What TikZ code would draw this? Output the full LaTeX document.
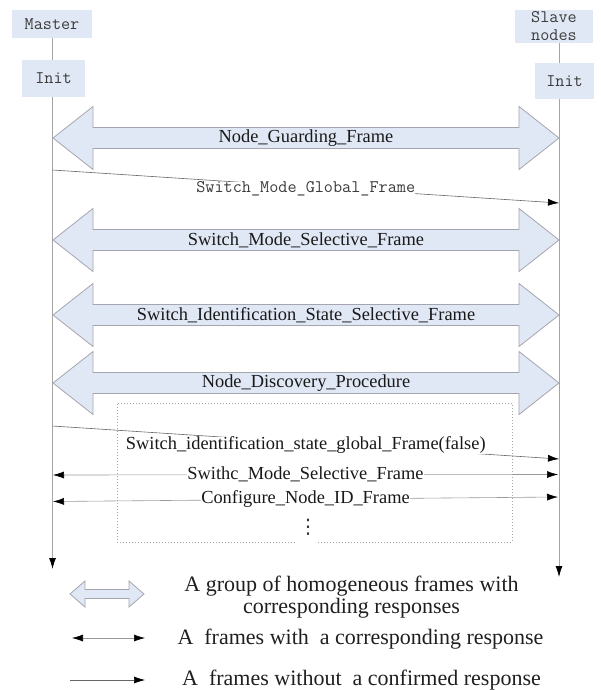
\documentclass[tikz,border=0pt]{standalone}
\usepackage{fontspec}
\setmainfont{Liberation Serif}
\newfontfamily\dotsfont{DejaVu Sans}
\usepackage{xcolor}
\usetikzlibrary{arrows.meta,positioning}

\definecolor{boxblue}{RGB}{225,232,245}
\definecolor{linegray}{RGB}{165,165,165}
\definecolor{edgegray}{RGB}{165,165,175}
\definecolor{txtgray}{RGB}{60,60,60}

% block arrow between the two lifelines: #1 = y, #2 = name, #3 = label
\newcommand{\groupframe}[3]{%
  \draw[grouparrow] (53,#1) -- (93,#1-31.5) -- (93,#1-10.5) -- (519,#1-10.5) -- (519,#1-31.5)
    -- (559,#1) -- (519,#1+31.5) -- (519,#1+10.5) -- (93,#1+10.5) -- (93,#1+31.5) -- cycle;
  \node[grouplabel] (#2) at (306,#1) {#3};}

\begin{document}
\begin{tikzpicture}[
    x=1pt, y=-1pt,
    >={Latex[length=11pt,width=7pt,color=black]},
    box/.style={fill=boxblue, inner sep=0pt, text=txtgray, font=\fontsize{17.7}{18}\ttfamily},
    lifeline/.style={draw=linegray, line width=0.8pt},
    grouparrow/.style={draw=edgegray, fill=boxblue, line width=0.8pt, line join=miter},
    grouplabel/.style={inner sep=0pt, text=black!90, font=\fontsize{18.4}{20}\selectfont},
    msg/.style={->, draw=black!60, line width=0.6pt},
    resp/.style={<->, draw=black!40, line width=0.6pt},
    msglabel/.style={fill=white, inner sep=0pt, text=black!90, font=\fontsize{18.4}{20}\selectfont},
    legendtext/.style={align=center, text=black!88, font=\fontsize{22}{22}\selectfont}
]
    \useasboundingbox (0,0) rectangle (601,690);

    % Participants
    \node[box, minimum width=80pt, minimum height=28pt] (master) at (52,24) {Master};
    \node[box, minimum width=63pt, minimum height=37pt] (minit) at (53.5,78.5) {Init};
    \node[box, minimum width=78pt, minimum height=33pt, align=center] (slave) at (554,26.5) {Slave\\nodes};
    \node[box, minimum width=59pt, minimum height=36pt] (sinit) at (564.5,81) {Init};

    % Lifelines
    \coordinate (mend) at (52.5,569);
    \coordinate (send) at (559,577);
    \draw[lifeline] (master.south -| mend) -- (minit.north -| mend);
    \draw[lifeline, ->] (minit.south -| mend) -- (mend);
    \draw[lifeline] (slave.south -| send) -- (sinit.north -| send);
    \draw[lifeline, ->] (sinit.south -| send) -- (send);

    % Dotted frame round the single frames
    \draw[linegray, line width=0.9pt, dash pattern=on 1pt off 2pt]
        (295,542) -- (117,542) -- (117,403) -- (512,403) -- (512,542) -- (317,542);

    % Groups of frames
    \groupframe{138}{guard}{Node\_Guarding\_Frame}
    \groupframe{240}{modesel}{Switch\_Mode\_Selective\_Frame}
    \groupframe{315}{identsel}{Switch\_Identification\_State\_Selective\_Frame}
    \groupframe{383}{discover}{Node\_Discovery\_Procedure}

    % Single frames
    \coordinate (mglob) at (52.5,170);
    \coordinate (sglob) at (559,203);
    \draw[msg] (mglob) -- node[msglabel, yshift=-2.5pt, text=txtgray, font=\fontsize{17.7}{18}\ttfamily]
        (globlbl) {Switch\_Mode\_Global\_Frame} (sglob);

    \coordinate (mident) at (52.5,426);
    \coordinate (sident) at (559,459);
    \draw[msg] (mident) -- node[msglabel, yshift=-3pt] (identlbl)
        {Switch\_identification\_state\_global\_Frame(false)} (sident);

    \coordinate (mswm) at (53,475);
    \coordinate (sswm) at (558,474.5);
    \draw[resp] (mswm) -- node[msglabel] (swmlbl) {Swithc\_Mode\_Selective\_Frame} (sswm);

    \coordinate (mcfg) at (53,501.5);
    \coordinate (scfg) at (558,497);
    \draw[resp] (mcfg) -- node[msglabel] (cfglbl) {Configure\_Node\_ID\_Frame} (scfg);

    \node[inner sep=0pt, text=black!80, font=\fontsize{20}{20}\dotsfont] (more) at (308,527) {⋮};

    % Legend
    \draw[grouparrow] (70,594) -- (85,581) -- (85,589.5) -- (129,589.5) -- (129,581) -- (144,594)
        -- (129,607) -- (129,598.5) -- (85,598.5) -- (85,607) -- cycle;
    \node[legendtext] (lgroup) at (351.5,597.5) {A group of homogeneous frames with\\corresponding responses};

    \coordinate (respl) at (72,638);
    \coordinate (respr) at (145,638);
    \draw[resp] (respl) -- (respr);
    \node[legendtext] (lresp) at (360.5,639) {A~ frames with~ a corresponding response};

    \coordinate (norel) at (70,680);
    \coordinate (norer) at (145,680);
    \draw[msg] (norel) -- (norer);
    \node[legendtext] (lnore) at (361.5,680) {A~ frames without~ a confirmed response};
\end{tikzpicture}
\end{document}
